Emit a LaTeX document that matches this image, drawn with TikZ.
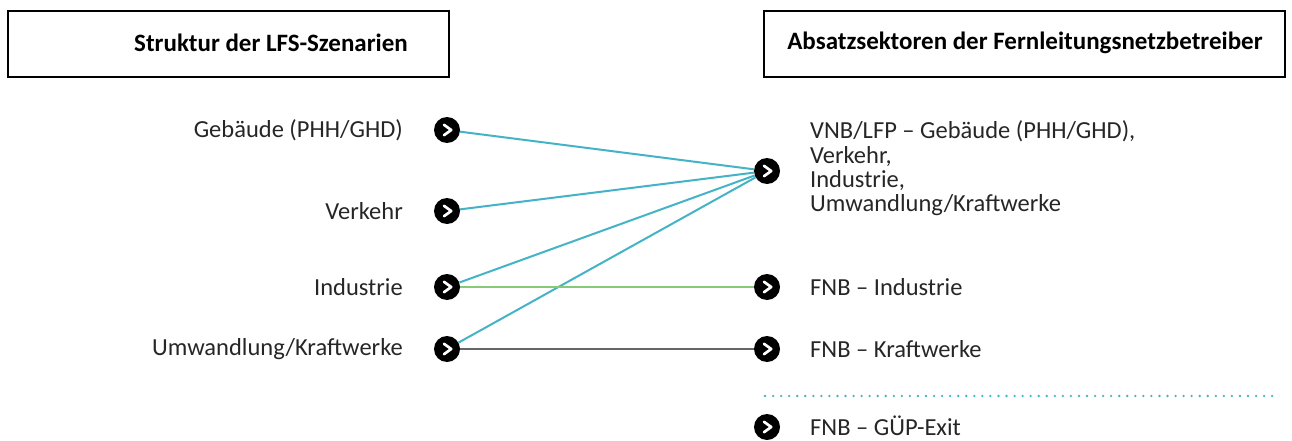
\documentclass[tikz,border=0pt]{standalone}
\usepackage{fontspec}
\setmainfont{Carlito}
\definecolor{lcyan}{HTML}{45B3C6}
\definecolor{lgreen}{HTML}{86C976}
\definecolor{lgray}{HTML}{666666}
\begin{document}
\begin{tikzpicture}[x=1pt,y=-1pt,
  hdrbox/.style={draw=black, line width=2.2pt},
  hdrtxt/.style={font=\fontsize{25}{28}\selectfont\bfseries, inner sep=0pt},
  lbl/.style={font=\fontsize{24.5}{24.3}\selectfont, inner sep=0pt, text=black!85},
  bullet/.style={circle, fill=black, minimum size=26pt, inner sep=0pt,
    path picture={\draw[white, line width=2.7pt, line cap=round, line join=round]
      ([xshift=-3pt,yshift=5.2pt]path picture bounding box.center) -- ++(7.2pt,-5.2pt) -- ++(-7.2pt,-5.2pt);}},
  link/.style={line width=2pt}
]
\useasboundingbox (0,0) rectangle (1292,441);
% header boxes
\node[hdrbox, minimum width=441pt, minimum height=66pt, anchor=north west] (hl) at (7,10) {};
\node[hdrtxt] (hlt) at (271,43) {Struktur der LFS-Szenarien};
\node[hdrbox, minimum width=521pt, minimum height=66pt, anchor=north west] (hr) at (763,10) {};
\node[hdrtxt] (hrt) at (1025,43) {Absatzsektoren der Fernleitungsnetzbetreiber};
% left bullets and labels
\node[bullet] (l1) at (447,130) {};
\node[bullet] (l2) at (447,211) {};
\node[bullet] (l3) at (447,287) {};
\node[bullet] (l4) at (447,349) {};
\node[lbl, anchor=east] (t1) at (403,130) {Gebäude (PHH/GHD)};
\node[lbl, anchor=east] (t2) at (403,211) {Verkehr};
\node[lbl, anchor=east] (t3) at (403,287) {Industrie};
\node[lbl, anchor=east] (t4) at (403,349) {Umwandlung/Kraftwerke};
% right bullets and labels
\node[bullet] (r1) at (767,171) {};
\node[bullet] (r2) at (767,287) {};
\node[bullet] (r3) at (767,349) {};
\node[bullet] (r4) at (767,427) {};
\node[lbl, anchor=west, align=left] (s1) at (810,168.5) {VNB/LFP -- Gebäude (PHH/GHD),\\Verkehr,\\Industrie,\\Umwandlung/Kraftwerke};
\node[lbl, anchor=west] (s2) at (810,287) {FNB -- Industrie};
\node[lbl, anchor=west] (s3) at (810,349) {FNB -- Kraftwerke};
\node[lbl, anchor=west] (s4) at (810,426) {FNB -- GÜP-Exit};
% connectors
\draw[link, lcyan] (l1) -- (r1);
\draw[link, lcyan] (l2) -- (r1);
\draw[link, lcyan] (l4) -- (r1);
\draw[link, lgreen] (l3) -- (r2);
\draw[link, lcyan] (l3) -- (r1);
\draw[link, lgray] (l4) -- (r3);
% dotted separator
\coordinate (d1) at (765,396);
\coordinate (d2) at (1273,396);
\draw[lcyan, line width=2.6pt, line cap=round, dash pattern=on 0pt off 8.05pt] (d1) -- (d2);
\end{tikzpicture}
\end{document}
